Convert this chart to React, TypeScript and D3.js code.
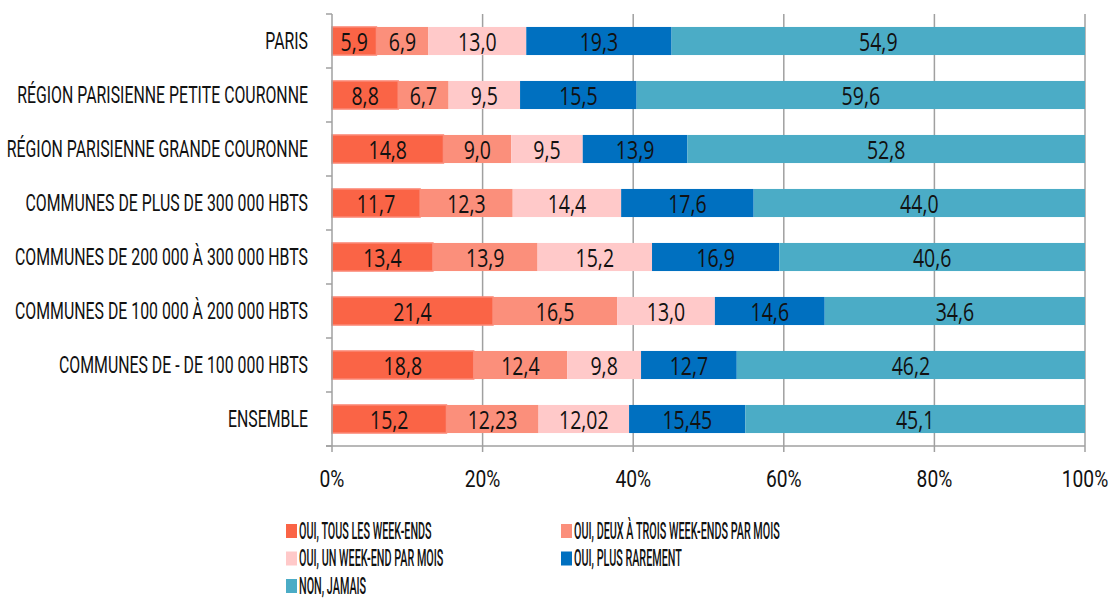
import React from 'react';
import * as d3 from 'd3';

const categories = [
  'PARIS',
  'RÉGION PARISIENNE PETITE COURONNE',
  'RÉGION PARISIENNE GRANDE COURONNE',
  'COMMUNES DE PLUS DE 300 000 HBTS',
  'COMMUNES DE 200 000 À 300 000 HBTS',
  'COMMUNES DE 100 000 À 200 000 HBTS',
  'COMMUNES DE - DE 100 000 HBTS',
  'ENSEMBLE',
];

const seriesNames = [
  'OUI, TOUS LES WEEK-ENDS',
  'OUI, DEUX À TROIS WEEK-ENDS PAR MOIS',
  'OUI, UN WEEK-END PAR MOIS',
  'OUI, PLUS RAREMENT',
  'NON, JAMAIS',
];

// displayed labels (as in the source)
const tousLesWE = ['5,9', '8,8', '14,8', '11,7', '13,4', '21,4', '18,8', '15,2'];
const deuxTroisWE = ['6,9', '6,7', '9,0', '12,3', '13,9', '16,5', '12,4', '12,23'];
const unWE = ['13,0', '9,5', '9,5', '14,4', '15,2', '13,0', '9,8', '12,02'];
const plusRarement = ['19,3', '15,5', '13,9', '17,6', '16,9', '14,6', '12,7', '15,45'];
const jamais = ['54,9', '59,6', '52,8', '44,0', '40,6', '34,6', '46,2', '45,1'];

const seriesLabels = [tousLesWE, deuxTroisWE, unWE, plusRarement, jamais];
const colors = ['#fa6446', '#fb8f7b', '#ffc9c9', '#0070c0', '#4bacc6'];
const xTicks = [0, 20, 40, 60, 80, 100];

const toNum = (s: string) => parseFloat(s.replace(',', '.'));

const W = 1110;
const H = 601;
const left = 332;
const right = 1085;
const top = 14;
const bottom = 446;

const labelFont = 'Roboto, "DejaVu Sans", sans-serif';
const valueFont = '"Open Sans", "Noto Sans", sans-serif';

function Narrow({ x, y, anchor, size, sx, children, weight = 400, font = labelFont }: any) {
  return (
    <text
      transform={`translate(${x},${y}) scale(${sx},1)`}
      textAnchor={anchor}
      dominantBaseline="central"
      fontFamily={font}
      fontSize={size}
      fontWeight={weight}
      fill="#111"
    >
      {children}
    </text>
  );
}

export default function App() {
  const x = d3.scaleLinear().domain([0, 100]).range([left, right]);
  const y = d3.scaleBand<string>().domain(categories).range([top, bottom]).paddingInner(0.48).paddingOuter(0.24);

  const rows = categories.map((c, i) => {
    const vals = seriesLabels.map((s) => toNum(s[i]));
    const total = d3.sum(vals);
    let acc = 0;
    return vals.map((v, k) => {
      const x0 = (acc / total) * 100;
      acc += v;
      const x1 = (acc / total) * 100;
      return { cat: c, k, x0, x1, label: seriesLabels[k][i] };
    });
  });

  const step = y.step();
  const boundaries = d3.range(categories.length + 1).map((i) => top + i * step);

  return (
    <svg width={W} height={H} style={{ position: 'absolute', left: 0, top: 0, background: '#fff' }}>
      {/* grid */}
      {xTicks.slice(1).map((t) => (
        <line key={t} x1={x(t)} x2={x(t)} y1={top} y2={bottom} stroke="#a0a0a0" strokeWidth={1.5} />
      ))}
      {/* bars */}
      {rows.map((segs) =>
        segs.map((s) => (
          <rect
            key={s.cat + s.k}
            x={x(s.x0)}
            y={y(s.cat)!}
            width={x(s.x1) - x(s.x0)}
            height={y.bandwidth()}
            fill={colors[s.k]}
            stroke={s.k === 0 ? '#fb8a78' : 'none'}
            strokeWidth={s.k === 0 ? 1.5 : 0}
          />
        ))
      )}
      {/* value labels */}
      {rows.map((segs) =>
        segs.map((s) => (
          <Narrow
            key={'l' + s.cat + s.k}
            x={(x(s.x0) + x(s.x1)) / 2}
            y={y(s.cat)! + y.bandwidth() / 2 + 1}
            anchor="middle"
            size={25}
            sx={0.78}
            font={valueFont}
          >
            {s.label}
          </Narrow>
        ))
      )}
      {/* axes */}
      <line x1={left} x2={left} y1={top} y2={bottom} stroke="#a0a0a0" strokeWidth={1.5} />
      <line x1={left - 6} x2={right} y1={bottom} y2={bottom} stroke="#a0a0a0" strokeWidth={1.5} />
      {boundaries.map((b, i) => (
        <line key={'yt' + i} x1={left - 6} x2={left} y1={b} y2={b} stroke="#a0a0a0" strokeWidth={1.5} />
      ))}
      {xTicks.map((t) => (
        <line key={'xt' + t} x1={x(t)} x2={x(t)} y1={bottom} y2={bottom + 6} stroke="#a0a0a0" strokeWidth={1.5} />
      ))}
      {xTicks.map((t) => (
        <Narrow key={'xl' + t} x={x(t)} y={479} anchor="middle" size={24} sx={0.8}>
          {t + '%'}
        </Narrow>
      ))}
      {categories.map((c) => (
        <Narrow key={'c' + c} x={308} y={y(c)! + y.bandwidth() / 2} anchor="end" size={23} sx={0.69}>
          {c}
        </Narrow>
      ))}
      {/* legend */}
      {seriesNames.map((n, i) => {
        const col = i % 2;
        const row = Math.floor(i / 2);
        const lx = col === 0 ? 286 : 561;
        const ly = 531 + row * 27.5;
        return (
          <g key={'lg' + i}>
            <rect x={lx} y={ly - 7} width={11} height={14} fill={colors[i]} />
            <Narrow x={lx + 13} y={ly} anchor="start" size={24} sx={0.45} weight={500}>
              {n}
            </Narrow>
          </g>
        );
      })}
    </svg>
  );
}
